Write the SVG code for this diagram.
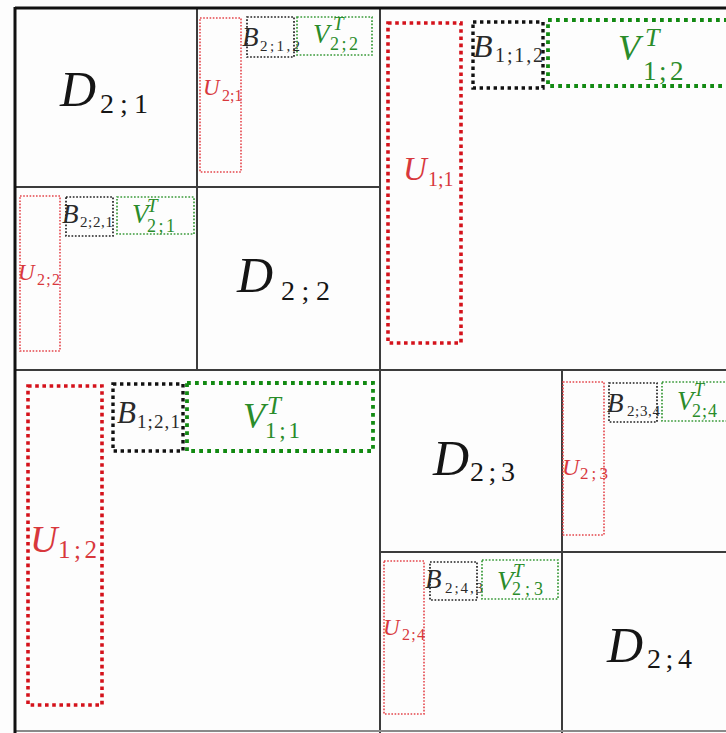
<svg xmlns="http://www.w3.org/2000/svg" width="726" height="733" viewBox="0 0 726 733">
  <style>
    .grid { stroke: #3c3c3c; stroke-width: 2; fill: none; }
    .frame { stroke: #111; stroke-width: 3; fill: none; }
    .base { stroke: #8a8a8a; stroke-width: 2; fill: none; }
    .u1 { fill: none; stroke: #d4121b; stroke-width: 3.6; stroke-dasharray: 3.6 3.6; }
    .b1 { fill: none; stroke: #111; stroke-width: 3.4; stroke-dasharray: 3.4 3.6; }
    .v1 { fill: none; stroke: #138a13; stroke-width: 3.8; stroke-dasharray: 3.8 4.2; }
    .u2 { fill: none; stroke: #e4454b; stroke-width: 1.6; stroke-dasharray: 1.6 1.6; }
    .b2 { fill: none; stroke: #222; stroke-width: 1.7; stroke-dasharray: 1.7 1.7; }
    .v2 { fill: none; stroke: #3a9a3a; stroke-width: 1.7; stroke-dasharray: 1.7 1.7; }
    text { font-family: "Liberation Serif", "DejaVu Serif", serif; }
    .i { font-style: italic; }
    .k { fill: #151515; }
    .kb { fill: #2a2a2a; }
    .rd { fill: #d8383c; }
    .gn { fill: #2a8c2a; }
  </style>

  <rect width="726" height="733" fill="#fdfdfd"/>

  <!-- block grid -->
  <g id="grid">
    <line class="grid" x1="197" y1="8" x2="197" y2="370"/>
    <line class="grid" x1="15" y1="187" x2="380" y2="187"/>
    <line class="grid" x1="380" y1="8" x2="380" y2="733"/>
    <line class="grid" x1="15" y1="370" x2="726" y2="370"/>
    <line class="grid" x1="562" y1="370" x2="562" y2="733"/>
    <line class="grid" x1="380" y1="552" x2="726" y2="552"/>
    <line class="base" x1="15" y1="731" x2="726" y2="731"/>
    <line class="frame" x1="15" y1="8" x2="726" y2="8"/>
    <line class="frame" x1="15" y1="7" x2="15" y2="733"/>
  </g>

  <!-- diagonal blocks -->
  <g id="D21">
    <text class="k" font-size="50"><tspan class="i" x="60" y="106">D</tspan><tspan font-size="28" x="100 120.1 134" y="113">2;1</tspan></text>
  </g>
  <g id="D22">
    <text class="k" font-size="50"><tspan class="i" x="237" y="292">D</tspan><tspan font-size="28" x="281 301.6 316" y="300">2;2</tspan></text>
  </g>
  <g id="D23">
    <text class="k" font-size="50"><tspan class="i" x="433" y="475">D</tspan><tspan font-size="28" x="470 488.6 501" y="481">2;3</tspan></text>
  </g>
  <g id="D24">
    <text class="k" font-size="50"><tspan class="i" x="607" y="662">D</tspan><tspan font-size="28" x="647 665.6 678" y="668">2;4</tspan></text>
  </g>

  <!-- level 2, block (1,2) -->
  <g id="U21">
    <rect class="u2" x="200" y="18" width="41" height="154"/>
    <text class="rd" font-size="23"><tspan class="i" x="203" y="95">U</tspan><tspan font-size="16" x="222" y="101">2;1</tspan></text>
  </g>
  <g id="B212">
    <rect class="b2" x="247" y="17" width="47" height="40"/>
    <text class="kb" font-size="27"><tspan class="i" x="242" y="46">B</tspan><tspan font-size="15" x="260 269.9 276.5 286.4 292.5" y="51">2;1,2</tspan></text>
  </g>
  <g id="V22">
    <rect class="v2" x="297" y="17" width="75" height="38"/>
    <text class="gn" font-size="27"><tspan class="i" x="313" y="43">V</tspan><tspan class="i" font-size="19" x="333" y="30">T</tspan><tspan font-size="18" x="330 341.5 349" y="50">2;2</tspan></text>
  </g>

  <!-- level 2, block (2,1) -->
  <g id="U22">
    <rect class="u2" x="20" y="196" width="40" height="155"/>
    <text class="rd" font-size="23"><tspan class="i" x="18" y="280">U</tspan><tspan font-size="16" x="37 46.3 52" y="285">2;2</tspan></text>
  </g>
  <g id="B221">
    <rect class="b2" x="66" y="197" width="47" height="39"/>
    <text class="kb" font-size="27"><tspan class="i" x="62" y="223">B</tspan><tspan font-size="15" x="80 88.1 92.9 101 105.4" y="227">2;2,1</tspan></text>
  </g>
  <g id="V21">
    <rect class="v2" x="117" y="197" width="77" height="37"/>
    <text class="gn" font-size="27"><tspan class="i" x="132" y="223">V</tspan><tspan class="i" font-size="19" x="147" y="212">T</tspan><tspan font-size="18" x="147 158.5 166" y="232">2;1</tspan></text>
  </g>

  <!-- level 2, block (3,4) -->
  <g id="U23">
    <rect class="u2" x="563" y="382" width="41" height="153"/>
    <text class="rd" font-size="24"><tspan class="i" x="562" y="475">U</tspan><tspan font-size="17" x="580 591.6 599.5" y="479">2;3</tspan></text>
  </g>
  <g id="B234">
    <rect class="b2" x="609" y="383" width="48" height="39"/>
    <text class="kb" font-size="27"><tspan class="i" x="607" y="412">B</tspan><tspan font-size="15" x="627 635.1 639.9 648 652.4" y="416">2;3,4</tspan></text>
  </g>
  <g id="V24">
    <rect class="v2" x="662" y="382" width="76" height="39"/>
    <text class="gn" font-size="27"><tspan class="i" x="677" y="410">V</tspan><tspan class="i" font-size="18" x="694" y="396">T</tspan><tspan font-size="18" x="692 702 708" y="417">2;4</tspan></text>
  </g>

  <!-- level 2, block (4,3) -->
  <g id="U24">
    <rect class="u2" x="384" y="561" width="40" height="153"/>
    <text class="rd" font-size="23"><tspan class="i" x="383" y="635">U</tspan><tspan font-size="16" x="402 411.3 417" y="640">2;4</tspan></text>
  </g>
  <g id="B243">
    <rect class="b2" x="430" y="562" width="47" height="38"/>
    <text class="kb" font-size="27"><tspan class="i" x="425" y="588">B</tspan><tspan font-size="15" x="445 454.4 460.5 469.9 475.5" y="593">2;4,3</tspan></text>
  </g>
  <g id="V23">
    <rect class="v2" x="482" y="560" width="76" height="39"/>
    <text class="gn" font-size="27"><tspan class="i" x="497" y="590">V</tspan><tspan class="i" font-size="19" x="513" y="577">T</tspan><tspan font-size="18" x="512 525 534" y="595">2;3</tspan></text>
  </g>

  <!-- level 1, upper right block -->
  <g id="U11">
    <rect class="u1" x="388" y="23" width="73" height="320"/>
    <text class="rd" font-size="33"><tspan class="i" x="403" y="180">U</tspan><tspan font-size="20" x="428 438 443.6" y="186">1;1</tspan></text>
  </g>
  <g id="B112">
    <rect class="b1" x="473" y="22" width="70" height="66"/>
    <text class="kb" font-size="32"><tspan class="i" x="473" y="57">B</tspan><tspan font-size="20" x="495 506.9 514.3 526.2 533" y="62">1;1,2</tspan></text>
  </g>
  <g id="V12">
    <rect class="v1" x="548" y="20" width="190" height="66"/>
    <text class="gn" font-size="36"><tspan class="i" x="618" y="60">V</tspan><tspan class="i" font-size="26" x="645" y="46">T</tspan><tspan font-size="27" x="643 659 670" y="80">1;2</tspan></text>
  </g>

  <!-- level 1, lower left block -->
  <g id="U12">
    <rect class="u1" x="28" y="386" width="74" height="319"/>
    <text class="rd" font-size="38"><tspan class="i" x="30" y="552">U</tspan><tspan font-size="25" x="58 74 84.5" y="558">1;2</tspan></text>
  </g>
  <g id="B121">
    <rect class="b1" x="113" y="384" width="70" height="67"/>
    <text class="kb" font-size="31"><tspan class="i" x="117" y="423">B</tspan><tspan font-size="19" x="137 147.6 154 164.6 170.5" y="428">1;2,1</tspan></text>
  </g>
  <g id="V11">
    <rect class="v1" x="187" y="383" width="186" height="68"/>
    <text class="gn" font-size="36"><tspan class="i" x="243" y="428">V</tspan><tspan class="i" font-size="25" x="267" y="414">T</tspan><tspan font-size="23" x="265 279.3 288.5" y="438">1;1</tspan></text>
  </g>
</svg>
